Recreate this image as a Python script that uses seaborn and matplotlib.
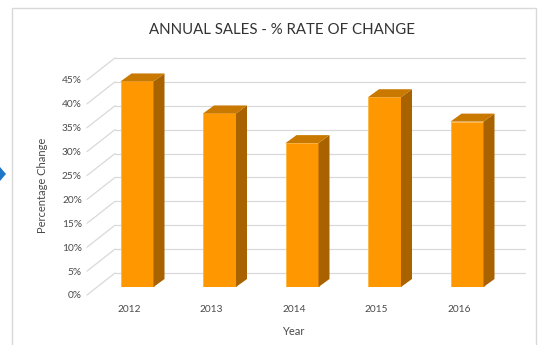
import matplotlib
matplotlib.use("Agg")
import matplotlib.pyplot as plt
import matplotlib.transforms as mtransforms
from matplotlib.patches import Polygon, Rectangle
import seaborn as sns
import pandas as pd

# ---- data ----
years = ["2012", "2013", "2014", "2015", "2016"]
pct_change = [43.0, 36.3, 30.1, 39.7, 34.6]
y_ticks = [0, 5, 10, 15, 20, 25, 30, 35, 40, 45]
y_tick_labels = ["0%", "5%", "10%", "15%", "20%", "25%", "30%", "35%", "40%", "45%"]
title = "ANNUAL SALES - % RATE OF CHANGE"
x_label = "Year"
y_label = "Percentage Change"

sns.set_theme(style="white")
plt.rcParams["font.family"] = ["Lato", "DejaVu Sans"]

W, H = 548, 345
fig = plt.figure(figsize=(W / 100, H / 100), dpi=100)
fig.patch.set_facecolor("white")

# axes geometry (pixels from top-left)
L, R, T, B = 100, 515, 60, 287
ax = fig.add_axes([L / W, (H - B) / H, (R - L) / W, (B - T) / H])

df = pd.DataFrame({"Year": years, "Change": pct_change})
front = "#FF9800"
sns.barplot(data=df, x="Year", y="Change", color=front, saturation=1,
            width=0.4, ax=ax, zorder=3, edgecolor="#FFB640", linewidth=0.6)

px_per_unit = 4.78
px_per_cat = 82.5
ax.set_ylim(0, (B - T) / px_per_unit)
ax.set_xlim((L - 137) / px_per_cat, (R - 137) / px_per_cat)

# 3D depth of bars
dx = 11 / px_per_cat
dy = 8 / px_per_unit
for p in list(ax.patches):
    x0 = p.get_x()
    x1 = x0 + p.get_width()
    h = p.get_height()
    side = Polygon([(x1, 0), (x1, h), (x1 + dx, h + dy), (x1 + dx, dy)],
                   closed=True, facecolor="#A86200", edgecolor="none", zorder=3)
    top = Polygon([(x0, h), (x1, h), (x1 + dx, h + dy), (x0 + dx, h + dy)],
                  closed=True, facecolor="#C97800", edgecolor="none", zorder=3)
    ax.add_patch(side)
    ax.add_patch(top)

# back-wall gridlines and floor diagonals
back_off = mtransforms.ScaledTranslation(0, 14 / 100, fig.dpi_scale_trans)
floor_off = mtransforms.ScaledTranslation(0, -8 / 100, fig.dpi_scale_trans)
gx0 = (115 - 137) / px_per_cat
gx1 = (525 - 137) / px_per_cat
fx0 = (87 - 137) / px_per_cat
grid_c = "#D9D9D9"
for v in y_ticks:
    ax.plot([gx0, gx1], [v, v], color=grid_c, lw=0.9, zorder=1,
            transform=ax.transData + back_off, clip_on=False)
    ax.plot([fx0, gx0], [v, v + 22 / px_per_unit], color=grid_c, lw=0.9, zorder=1,
            transform=ax.transData + floor_off, clip_on=False)

# ticks
txt_c = "#4A4A4A"
ax.set_yticks(y_ticks)
ax.set_yticklabels(y_tick_labels)
ax.tick_params(axis="y", length=0, pad=13, labelsize=7.3, labelcolor=txt_c)
ax.tick_params(axis="x", length=0, pad=13, labelsize=7.3, labelcolor=txt_c)
for lbl in ax.get_yticklabels():
    lbl.set_transform(lbl.get_transform() + floor_off)
xoff = mtransforms.ScaledTranslation(-8 / 100, 0, fig.dpi_scale_trans)
for lbl in ax.get_xticklabels():
    lbl.set_transform(lbl.get_transform() + xoff)

ax.set_xlabel(x_label, fontsize=8, color=txt_c)
ax.set_ylabel(y_label, fontsize=8, color=txt_c)
ax.xaxis.set_label_coords((293 - L) / (R - L), (B - 326) / (B - T))
ax.yaxis.set_label_coords((48 - L) / (R - L), (B - 185) / (B - T))

for s in ax.spines.values():
    s.set_visible(False)
ax.set_facecolor("none")
ax.grid(False)

fig.text(282 / W, (H - 30) / H, title, ha="center", va="center",
         fontsize=10.8, color="#333333")

# chart area border
fig.patches.append(Rectangle((12 / W, -0.05), (536 - 12) / W, (H - 8) / H + 0.05,
                             transform=fig.transFigure, facecolor="none",
                             edgecolor="#D9D9D9", lw=1, zorder=0))
# small blue pointer on the left
fig.patches.append(Polygon([(0 / W, (H - 167) / H), (6 / W, (H - 174) / H), (0 / W, (H - 181) / H)],
                           closed=True, transform=fig.transFigure,
                           facecolor="#1F77C8", edgecolor="none"))

fig.savefig("out.png", dpi=100)
